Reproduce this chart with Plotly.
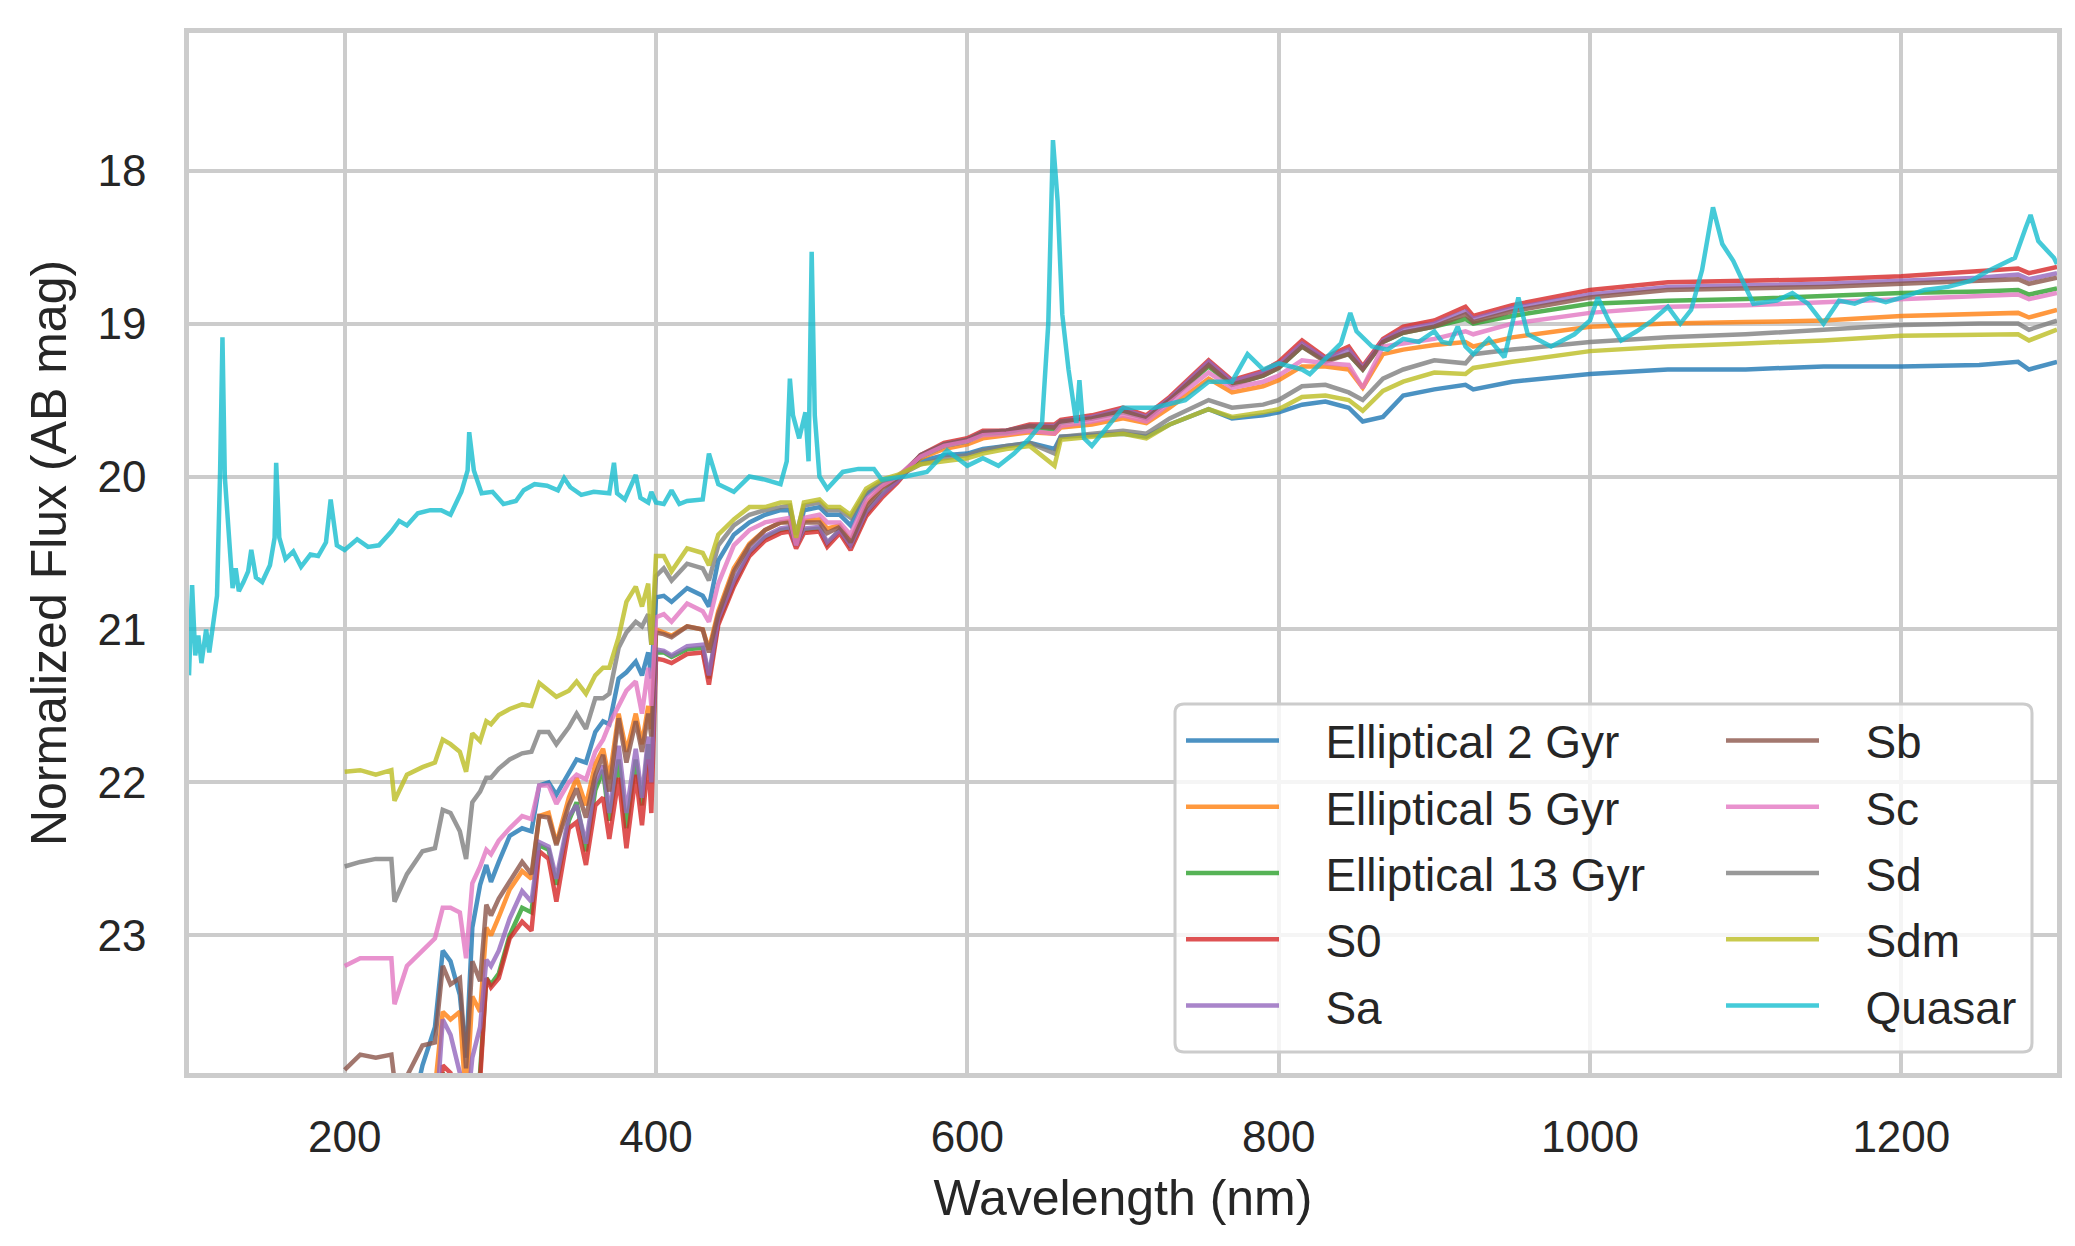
import plotly.graph_objects as go

# wavelength grid of the galaxy templates (nm)
wavelength_gal = [
    200, 210, 220, 230, 232, 240, 250, 258, 263, 268,
    274, 278, 282, 287, 291, 294, 299, 306, 314, 320,
    325, 331, 336, 344, 349, 355, 361, 366, 370, 376,
    381, 387, 391, 395, 397, 400, 405, 410, 420, 430,
    434, 440, 450, 460, 470, 480, 486, 490, 495, 505,
    510, 518, 525, 535, 545, 555, 570, 585, 600, 610,
    625, 640, 656, 660, 680, 700, 715, 730, 755, 770,
    790, 800, 815, 830, 845, 854, 867, 880, 900, 920,
    925, 950, 1000, 1050, 1100, 1150, 1200, 1250, 1275, 1282,
    1300,
]

ell_2gyr = [
    24.70, 24.60, 24.60, 24.55, 24.80, 24.30, 23.85, 23.60, 23.10, 23.17,
    23.39, 23.80, 22.95, 22.67, 22.54, 22.65, 22.52, 22.35, 22.30, 22.32,
    22.02, 22.00, 22.08, 21.93, 21.85, 21.87, 21.67, 21.60, 21.62, 21.32,
    21.28, 21.21, 21.30, 21.15, 21.32, 20.79, 20.78, 20.82, 20.73, 20.78,
    20.85, 20.55, 20.38, 20.30, 20.25, 20.22, 20.22, 20.45, 20.22, 20.20,
    20.25, 20.25, 20.32, 20.12, 20.04, 20.00, 19.90, 19.86, 19.85, 19.82,
    19.80, 19.78, 19.82, 19.74, 19.73, 19.72, 19.74, 19.66, 19.56, 19.62,
    19.60, 19.58, 19.53, 19.51, 19.55, 19.64, 19.61, 19.47, 19.43, 19.40,
    19.43, 19.38, 19.33, 19.30, 19.30, 19.28, 19.28, 19.27, 19.25, 19.30,
    19.25,
]
ell_5gyr = [
    24.60, 24.50, 24.50, 24.50, 24.70, 24.40, 24.20, 24.00, 23.50, 23.55,
    23.50, 24.10, 23.40, 23.50, 22.95, 23.00, 22.88, 22.70, 22.58, 22.63,
    22.22, 22.20, 22.40, 22.10, 21.97, 22.15, 21.88, 21.78, 21.98, 21.55,
    21.80, 21.55, 21.75, 21.50, 21.65, 21.00, 21.02, 21.04, 20.98, 21.00,
    21.13, 20.88, 20.60, 20.44, 20.35, 20.30, 20.29, 20.45, 20.29, 20.28,
    20.34, 20.32, 20.42, 20.18, 20.07, 20.01, 19.88, 19.82, 19.79, 19.75,
    19.73, 19.71, 19.72, 19.68, 19.66, 19.62, 19.65, 19.55, 19.36, 19.45,
    19.41, 19.37, 19.28, 19.28, 19.30, 19.42, 19.20, 19.17, 19.14, 19.12,
    19.15, 19.09, 19.02, 19.00, 18.99, 18.98, 18.95, 18.94, 18.93, 18.96,
    18.91,
]
ell_13gyr = [
    25.00, 24.90, 24.90, 24.90, 25.10, 24.80, 24.60, 24.40, 23.90, 24.00,
    24.00, 24.50, 24.00, 23.90, 23.28, 23.32, 23.25, 23.00, 22.82, 22.85,
    22.41, 22.44, 22.67, 22.25, 22.13, 22.45, 22.05, 21.92, 22.25, 21.85,
    22.30, 21.85, 22.15, 21.75, 22.00, 21.15, 21.15, 21.18, 21.13, 21.12,
    21.32, 20.95, 20.70, 20.50, 20.40, 20.35, 20.34, 20.45, 20.35, 20.34,
    20.44, 20.35, 20.46, 20.24, 20.12, 20.03, 19.87, 19.80, 19.77, 19.72,
    19.71, 19.68, 19.69, 19.65, 19.62, 19.58, 19.62, 19.50, 19.28, 19.40,
    19.34, 19.29, 19.15, 19.24, 19.20, 19.30, 19.12, 19.06, 19.02, 18.97,
    19.00, 18.95, 18.87, 18.85, 18.84, 18.82, 18.80, 18.79, 18.78, 18.81,
    18.77,
]
s0 = [
    25.20, 25.10, 25.10, 25.10, 25.30, 25.00, 24.80, 24.60, 23.85, 23.90,
    24.10, 24.50, 24.30, 23.95, 23.28, 23.34, 23.28, 23.02, 22.91, 22.97,
    22.45, 22.50, 22.78, 22.30, 22.26, 22.54, 22.15, 22.10, 22.37, 21.97,
    22.43, 21.95, 22.28, 21.85, 22.20, 21.19, 21.20, 21.22, 21.16, 21.15,
    21.36, 20.97, 20.72, 20.52, 20.42, 20.37, 20.36, 20.47, 20.37, 20.36,
    20.46, 20.37, 20.48, 20.26, 20.14, 20.04, 19.86, 19.78, 19.75, 19.70,
    19.70, 19.66, 19.66, 19.63, 19.60, 19.55, 19.60, 19.48, 19.24, 19.37,
    19.31, 19.25, 19.11, 19.22, 19.15, 19.28, 19.10, 19.02, 18.98, 18.89,
    18.95, 18.88, 18.78, 18.73, 18.72, 18.71, 18.69, 18.66, 18.64, 18.67,
    18.63,
]
sa = [
    24.90, 24.80, 24.80, 24.80, 25.00, 24.70, 24.50, 24.30, 23.55, 23.65,
    23.90, 24.20, 23.80, 23.60, 23.16, 23.20, 23.10, 22.89, 22.71, 22.78,
    22.39, 22.42, 22.63, 22.22, 22.15, 22.40, 22.00, 21.89, 22.20, 21.76,
    22.20, 21.78, 22.10, 21.70, 22.00, 21.13, 21.14, 21.17, 21.11, 21.10,
    21.30, 20.93, 20.68, 20.49, 20.39, 20.34, 20.33, 20.45, 20.34, 20.33,
    20.43, 20.35, 20.45, 20.23, 20.12, 20.03, 19.86, 19.79, 19.76, 19.71,
    19.70, 19.67, 19.67, 19.64, 19.61, 19.56, 19.61, 19.49, 19.25, 19.38,
    19.32, 19.27, 19.13, 19.23, 19.17, 19.29, 19.11, 19.04, 19.00, 18.92,
    18.97, 18.90, 18.81, 18.76, 18.75, 18.74, 18.72, 18.70, 18.68, 18.71,
    18.67,
]
sb = [
    23.88, 23.78, 23.80, 23.78, 23.95, 23.92, 23.72, 23.70, 23.20, 23.32,
    23.28, 23.87, 23.17, 23.30, 22.80, 22.87, 22.76, 22.65, 22.52, 22.60,
    22.22, 22.23, 22.41, 22.15, 22.04, 22.23, 21.95, 21.82, 22.06, 21.58,
    21.87, 21.60, 21.80, 21.55, 21.70, 21.02, 21.03, 21.05, 20.98, 21.00,
    21.15, 20.90, 20.62, 20.45, 20.35, 20.30, 20.30, 20.45, 20.30, 20.30,
    20.37, 20.33, 20.43, 20.20, 20.08, 20.01, 19.86, 19.79, 19.76, 19.71,
    19.70, 19.67, 19.68, 19.64, 19.62, 19.57, 19.62, 19.50, 19.27, 19.40,
    19.34, 19.29, 19.15, 19.25, 19.20, 19.30, 19.12, 19.06, 19.02, 18.94,
    18.99, 18.92, 18.83, 18.78, 18.77, 18.76, 18.74, 18.72, 18.71, 18.74,
    18.70,
]
sc = [
    23.20, 23.15, 23.15, 23.15, 23.45, 23.20, 23.10, 23.02, 22.82, 22.82,
    22.85, 23.15, 22.66, 22.55, 22.44, 22.47, 22.38, 22.30, 22.22, 22.24,
    22.02, 22.02, 22.14, 22.00, 21.95, 21.98, 21.80, 21.72, 21.62, 21.50,
    21.40, 21.34, 21.55, 21.25, 21.50, 20.92, 20.90, 20.95, 20.83, 20.88,
    20.95, 20.70, 20.45, 20.35, 20.30, 20.28, 20.27, 20.45, 20.27, 20.25,
    20.30, 20.30, 20.38, 20.15, 20.06, 20.00, 19.87, 19.80, 19.77, 19.73,
    19.72, 19.70, 19.72, 19.67, 19.64, 19.60, 19.64, 19.52, 19.32, 19.42,
    19.38, 19.34, 19.24, 19.26, 19.27, 19.42, 19.15, 19.13, 19.10, 19.05,
    19.07, 19.00, 18.93, 18.89, 18.88, 18.86, 18.84, 18.82, 18.81, 18.84,
    18.80,
]
sd = [
    22.55, 22.52, 22.50, 22.50, 22.78, 22.60, 22.45, 22.43, 22.18, 22.20,
    22.32, 22.50, 22.13, 22.06, 21.97, 21.97, 21.91, 21.85, 21.81, 21.80,
    21.67, 21.67, 21.75, 21.64, 21.55, 21.65, 21.45, 21.45, 21.42, 21.12,
    21.02, 20.95, 20.98, 20.90, 21.10, 20.65, 20.60, 20.68, 20.57, 20.60,
    20.68, 20.45, 20.32, 20.25, 20.22, 20.20, 20.19, 20.38, 20.19, 20.17,
    20.22, 20.22, 20.27, 20.10, 20.03, 20.00, 19.92, 19.88, 19.86, 19.83,
    19.80, 19.78, 19.85, 19.74, 19.72, 19.70, 19.72, 19.62, 19.50, 19.55,
    19.53, 19.50, 19.41, 19.40, 19.45, 19.50, 19.36, 19.30, 19.24, 19.26,
    19.20, 19.17, 19.12, 19.09, 19.07, 19.04, 19.01, 19.00, 19.00, 19.04,
    18.98,
]
sdm = [
    21.93, 21.92, 21.95, 21.92, 22.12, 21.95, 21.90, 21.87, 21.72, 21.75,
    21.80, 21.93, 21.68, 21.73, 21.60, 21.62, 21.56, 21.52, 21.49, 21.50,
    21.35, 21.40, 21.44, 21.40, 21.34, 21.42, 21.30, 21.25, 21.25, 21.05,
    20.82, 20.72, 20.85, 20.70, 21.10, 20.52, 20.52, 20.62, 20.47, 20.50,
    20.58, 20.38, 20.28, 20.20, 20.20, 20.17, 20.17, 20.40, 20.17, 20.15,
    20.20, 20.20, 20.25, 20.08, 20.02, 19.99, 19.92, 19.90, 19.88, 19.85,
    19.82, 19.80, 19.93, 19.76, 19.74, 19.72, 19.75, 19.66, 19.56, 19.61,
    19.58, 19.56, 19.48, 19.47, 19.50, 19.57, 19.44, 19.38, 19.32, 19.33,
    19.29, 19.25, 19.18, 19.15, 19.13, 19.11, 19.08, 19.07, 19.07, 19.11,
    19.04,
]

# quasar template has its own wavelength sampling
quasar_wl = [
    100, 102, 104, 106, 108, 111, 113, 116, 118, 120,
    121.5, 123, 126, 128, 130, 132, 135, 138, 140, 143,
    147, 152, 155, 156, 158, 162, 167, 172, 178, 183,
    188, 191, 195, 200, 208, 215, 222, 230, 235, 240,
    247, 255, 262, 268, 275, 279, 280, 283, 288, 295,
    302, 310, 315, 322, 330, 337, 341, 345, 352, 360,
    370, 373, 375, 380, 387, 390, 395, 397, 400, 405,
    410, 415, 420, 430, 434, 440, 450, 460, 470, 480,
    484, 486, 488, 492, 496, 498, 500, 502, 505, 510,
    520, 530, 540, 545, 560, 574, 587, 600, 610, 620,
    630, 640, 648, 652, 655, 658, 661, 665, 670, 672,
    675, 680, 700, 720, 740, 755, 770, 780, 790, 800,
    815, 820, 840, 846, 850, 860, 870, 880, 890, 900,
    905, 910, 915, 920, 925, 935, 945, 954, 960, 975,
    990, 1000, 1005, 1012, 1020, 1030, 1040, 1050, 1058, 1065,
    1072, 1079, 1085, 1092, 1098, 1105, 1120, 1130, 1140, 1150,
    1160, 1170, 1180, 1190, 1200, 1215, 1230, 1245, 1255, 1265,
    1273, 1280, 1283, 1288, 1293, 1298, 1300,
]
quasar = [
    21.30, 20.71, 21.17, 21.04, 21.22, 21.00, 21.15, 20.90, 20.78, 19.96,
    19.09, 20.00, 20.45, 20.73, 20.60, 20.75, 20.69, 20.62, 20.48, 20.66,
    20.69, 20.58, 20.40, 19.91, 20.40, 20.54, 20.49, 20.59, 20.51, 20.52,
    20.43, 20.15, 20.45, 20.48, 20.41, 20.46, 20.45, 20.36, 20.29, 20.32,
    20.24, 20.22, 20.22, 20.25, 20.10, 19.96, 19.71, 19.96, 20.11, 20.10,
    20.18, 20.16, 20.09, 20.05, 20.06, 20.09, 20.01, 20.07, 20.12, 20.10,
    20.11, 19.91, 20.11, 20.15, 19.99, 20.14, 20.17, 20.10, 20.17, 20.18,
    20.09, 20.18, 20.16, 20.15, 19.85, 20.05, 20.10, 20.00, 20.02, 20.05,
    19.90, 19.36, 19.60, 19.75, 19.58, 19.90, 18.53, 19.60, 20.00, 20.08,
    19.97, 19.95, 19.95, 20.02, 20.00, 19.97, 19.83, 19.93, 19.88, 19.93,
    19.85, 19.75, 19.65, 19.00, 17.80, 18.20, 18.94, 19.30, 19.65, 19.37,
    19.75, 19.80, 19.55, 19.55, 19.50, 19.38, 19.38, 19.20, 19.30, 19.26,
    19.30, 19.33, 19.13, 18.93, 19.05, 19.15, 19.17, 19.10, 19.12, 19.05,
    19.12, 19.13, 19.02, 19.15, 19.20, 19.10, 19.22, 18.83, 19.07, 19.15,
    19.07, 18.98, 18.83, 18.98, 19.11, 19.05, 18.98, 18.89, 19.00, 18.91,
    18.65, 18.24, 18.48, 18.59, 18.72, 18.87, 18.85, 18.80, 18.87, 19.00,
    18.85, 18.87, 18.83, 18.86, 18.83, 18.78, 18.76, 18.72, 18.66, 18.61,
    18.57, 18.37, 18.29, 18.46, 18.52, 18.57, 18.61,
]

series = [
    ('Elliptical 2 Gyr', wavelength_gal, ell_2gyr, '#1f77b4'),
    ('Elliptical 5 Gyr', wavelength_gal, ell_5gyr, '#ff7f0e'),
    ('Elliptical 13 Gyr', wavelength_gal, ell_13gyr, '#2ca02c'),
    ('S0', wavelength_gal, s0, '#d62728'),
    ('Sa', wavelength_gal, sa, '#9467bd'),
    ('Sb', wavelength_gal, sb, '#8c564b'),
    ('Sc', wavelength_gal, sc, '#e377c2'),
    ('Sd', wavelength_gal, sd, '#7f7f7f'),
    ('Sdm', wavelength_gal, sdm, '#bcbd22'),
    ('Quasar', quasar_wl, quasar, '#17becf'),
]

fig = go.Figure()
for i, (name, wl, mag, color) in enumerate(series):
    fig.add_trace(go.Scatter(
        x=wl, y=mag, name='\u2002\u2009\u2009' + name, mode='lines',
        line=dict(color=color, width=4.5), opacity=0.8,
        legend='legend' if i < 5 else 'legend2', legendgroup=name,
    ))

FONT = 'Liberation Sans, Arial, sans-serif'
TXT = '#262626'
GRID = '#cccccc'

W, H = 2075, 1246
ml, mr, mt, mb = 181, 26, 25, 181
pw, ph = W - ml - mr, H - mt - mb


def px_x(v):
    return (v - ml) / pw


def px_y(v):
    return (H - mb - v) / ph


# legend frame (rounded box behind the two legend columns)
x0, x1, y0, y1 = px_x(1167), px_x(2024), px_y(1044), px_y(696)
rx, ry = 9 / pw, 9 / ph
frame = (f'M{x0 + rx},{y0} L{x1 - rx},{y0} Q{x1},{y0} {x1},{y0 + ry} '
         f'L{x1},{y1 - ry} Q{x1},{y1} {x1 - rx},{y1} L{x0 + rx},{y1} '
         f'Q{x0},{y1} {x0},{y1 - ry} L{x0},{y0 + ry} Q{x0},{y0} {x0 + rx},{y0} Z')

leg_common = dict(
    bgcolor='rgba(0,0,0,0)', font=dict(family=FONT, size=46, color=TXT),
    itemwidth=93, xanchor='left', yanchor='top', tracegroupgap=3.5,
)

fig.update_layout(
    width=W, height=H,
    margin=dict(l=ml, r=mr, t=mt, b=mb),
    paper_bgcolor='white', plot_bgcolor='white',
    font=dict(family=FONT, size=44, color=TXT),
    showlegend=True,
    legend=dict(x=px_x(1173), y=px_y(696), **leg_common),
    legend2=dict(x=px_x(1713), y=px_y(696), **leg_common),
    shapes=[dict(type='path', path=frame, xref='paper', yref='paper',
                 line=dict(color=GRID, width=3),
                 fillcolor='rgba(255,255,255,0.8)', layer='above')],
)

fig.update_xaxes(
    range=[100, 1300], tickvals=[200, 400, 600, 800, 1000, 1200],
    showgrid=True, gridcolor=GRID, gridwidth=3.5,
    showline=True, linecolor=GRID, linewidth=4.5, mirror=True,
    zeroline=False, ticks='outside', ticklen=21, tickcolor='white',
    tickfont=dict(family=FONT, size=44, color=TXT),
    title=dict(text='Wavelength (nm)', font=dict(family=FONT, size=50, color=TXT), standoff=22),
)
fig.update_yaxes(
    range=[23.9, 17.1], tickvals=[18, 19, 20, 21, 22, 23],
    showgrid=True, gridcolor=GRID, gridwidth=3.5,
    showline=True, linecolor=GRID, linewidth=4.5, mirror=True,
    zeroline=False, ticks='outside', ticklen=29, tickcolor='white',
    tickfont=dict(family=FONT, size=44, color=TXT),
    title=dict(text='Normalized Flux (AB mag)', font=dict(family=FONT, size=50, color=TXT), standoff=16),
)

fig.write_html('out.html')
